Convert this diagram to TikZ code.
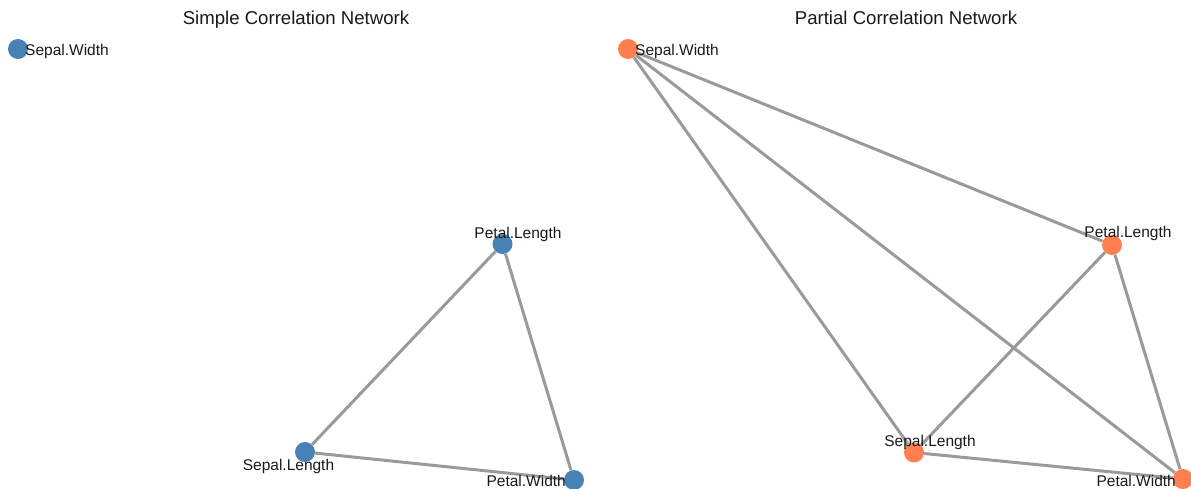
\documentclass[tikz,border=0pt]{standalone}
\usepackage{fontspec}
\setmainfont{Liberation Sans}
\definecolor{simplenode}{HTML}{4682B4}
\definecolor{partialnode}{HTML}{FF7F50}
\definecolor{edgegray}{HTML}{9A9A9A}
\begin{document}
\begin{tikzpicture}[x=1pt,y=-1pt,
  vertex/.style={circle,inner sep=0pt,minimum size=20pt},
  simplev/.style={vertex,fill=simplenode},
  partialv/.style={vertex,fill=partialnode},
  tie/.style={draw=edgegray,line width=3pt},
  vlabel/.style={inner sep=0pt,text=black!90,font=\fontsize{15.5}{18}\selectfont},
  heading/.style={inner sep=0pt,anchor=base,text=black!90,font=\fontsize{18.6}{22}\selectfont}]
\useasboundingbox (0,0) rectangle (1191,488);

% panel titles
\node[heading] (t1) at (296,24) {Simple Correlation Network};
\node[heading] (t2) at (906,24) {Partial Correlation Network};

% simple correlation network
\node[simplev] (sSW) at (18,49) {};
\node[simplev] (sPL) at (502.5,244) {};
\node[simplev] (sSL) at (305,452) {};
\node[simplev] (sPW) at (574,480) {};
\draw[tie] (sPL) -- (sSL);
\draw[tie] (sPL) -- (sPW);
\draw[tie] (sSL) -- (sPW);
\node[vlabel,anchor=base west] (lsSW) at (25,55) {Sepal.Width};
\node[vlabel,anchor=base] (lsPL) at (518,238) {Petal.Length};
\node[vlabel,anchor=base] (lsSL) at (288.5,470) {Sepal.Length};
\node[vlabel,anchor=base east] (lsPW) at (566,486) {Petal.Width};

% partial correlation network
\node[partialv] (pSW) at (628,49) {};
\node[partialv] (pPL) at (1112,245) {};
\node[partialv] (pSL) at (914,452.5) {};
\node[partialv] (pPW) at (1183,479) {};
\draw[tie] (pSW) -- (pPL);
\draw[tie] (pSW) -- (pSL);
\draw[tie] (pSW) -- (pPW);
\draw[tie] (pPL) -- (pSL);
\draw[tie] (pPL) -- (pPW);
\draw[tie] (pSL) -- (pPW);
\node[vlabel,anchor=base west] (lpSW) at (635,55) {Sepal.Width};
\node[vlabel,anchor=base] (lpPL) at (1128,237.5) {Petal.Length};
\node[vlabel,anchor=base] (lpSL) at (930,446) {Sepal.Length};
\node[vlabel,anchor=base east] (lpPW) at (1176,486) {Petal.Width};
\end{tikzpicture}
\end{document}
